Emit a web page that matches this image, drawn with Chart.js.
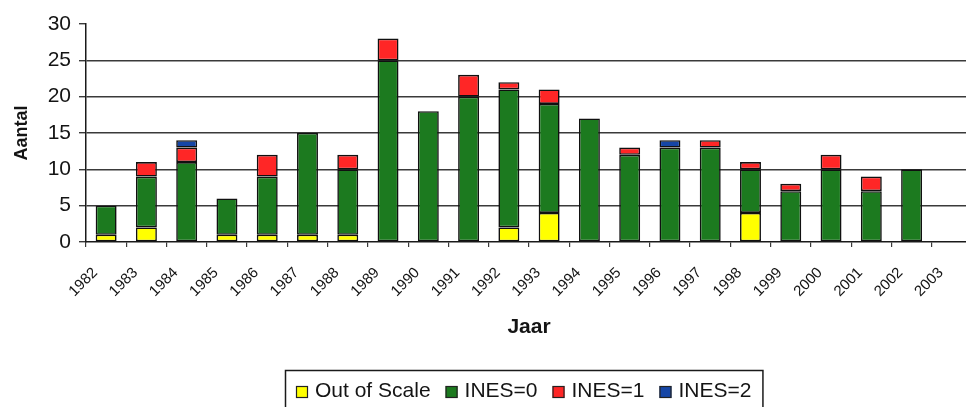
<!DOCTYPE html>
<html>
<head>
<meta charset="utf-8">
<script src="https://cdn.jsdelivr.net/npm/chart.js@4/dist/chart.umd.min.js"></script>
<style>
  html, body { margin: 0; padding: 0; background: #ffffff; overflow: hidden; }
  #wrap { width: 966px; height: 407px; overflow: hidden; }
</style>
</head>
<body>
<div id="wrap"><canvas id="c" width="972" height="407"></canvas></div>
<script>
// Jaarlijkse meldingen per INES-niveau
const years = ['1982', '1983', '1984', '1985', '1986', '1987', '1988', '1989', '1990', '1991', '1992',
               '1993', '1994', '1995', '1996', '1997', '1998', '1999', '2000', '2001', '2002', '2003'];
const outOfScale = [1, 2, null, 1, 1, 1, 1, null, null, null, 2, 4, null, null, null, null, 4, null, null, null, null, null];
const ines0      = [4, 7, 11, 5, 8, 14, 9, 25, 18, 20, 19, 15, 17, 12, 13, 13, 6, 7, 10, 7, 10, null];
const ines1      = [null, 2, 2, null, 3, null, 2, 3, null, 3, 1, 2, null, 1, null, 1, 1, 1, 2, 2, null, null];
const ines2      = [null, null, 1, null, null, null, null, null, null, null, null, null, null, null, 1, null, null, null, null, null, null, null];
const yTicks     = [0, 5, 10, 15, 20, 25, 30];

const FONT = "'Liberation Sans', Arial, Helvetica, sans-serif";
const INK = '#141414';
const RULE = '#3a3a3a';

function barSet(label, data, color) {
  return {
    label, data,
    backgroundColor: color,
    borderColor: '#101010',
    borderWidth: 1.6,
    borderSkipped: false,
    categoryPercentage: 1.0,
    barPercentage: 0.52
  };
}

// Legend drawn as a framed row below the axis title
const framedLegend = {
  id: 'framedLegend',
  afterDraw(chart) {
    const ctx = chart.ctx;
    const sw = 12, gapText = 7, gapItem = 15, padX = 11;
    ctx.save();
    ctx.font = '21px ' + FONT;
    const items = chart.data.datasets.map(ds => ({
      text: ds.label, color: ds.backgroundColor, w: ctx.measureText(ds.label).width
    }));
    let total = padX * 2;
    items.forEach((it, i) => { total += sw + gapText + it.w + (i < items.length - 1 ? gapItem : 0); });
    const cx = 524, top = 370, bottom = 414, midY = 391;
    const left = Math.round(cx - total / 2);
    ctx.lineWidth = 1.5;
    ctx.strokeStyle = '#1a1a1a';
    ctx.strokeRect(left + 0.5, top + 0.5, total, bottom - top);
    let x = left + padX;
    ctx.textBaseline = 'middle';
    ctx.textAlign = 'left';
    items.forEach(it => {
      ctx.fillStyle = it.color;
      ctx.fillRect(x, midY - sw / 2 + 1, sw, sw);
      ctx.lineWidth = 1.2;
      ctx.strokeStyle = '#222';
      ctx.strokeRect(x + 0.5, midY - sw / 2 + 1.5, sw - 1, sw - 1);
      x += sw + gapText;
      ctx.fillStyle = INK;
      ctx.fillText(it.text, x, midY);
      x += it.w + gapItem;
    });
    ctx.restore();
  }
};

new Chart(document.getElementById('c'), {
  type: 'bar',
  data: {
    labels: years,
    datasets: [
      barSet('Out of Scale', outOfScale, '#ffff00'),
      barSet('INES=0', ines0, '#1c7a1f'),
      barSet('INES=1', ines1, '#ff2626'),
      barSet('INES=2', ines2, '#1646a6')
    ]
  },
  options: {
    responsive: false,
    animation: false,
    devicePixelRatio: 1,
    layout: { padding: { left: 0, right: 0, top: 24, bottom: 65 } },
    plugins: {
      legend: { display: false },
      tooltip: { enabled: false }
    },
    scales: {
      x: {
        stacked: true,
        grid: { offset: true, drawOnChartArea: false, drawTicks: true, tickLength: 5, color: RULE, lineWidth: 1.2 },
        border: { color: '#1a1a1a', width: 1.5 },
        ticks: {
          minRotation: 45, maxRotation: 45, autoSkip: false,
          labelOffset: -11, padding: 17,
          color: INK, font: { family: FONT, size: 15 }
        },
        title: {
          display: true, text: 'Jaar', color: INK,
          font: { family: FONT, size: 21, weight: 'bold' },
          padding: { top: 0, bottom: 2 }
        },
        afterFit(scale) {
          scale.height = 100;
          scale.paddingLeft = 0;
          scale.paddingRight = 0;
        }
      },
      y: {
        stacked: true,
        min: 0, max: 30,
        afterBuildTicks(scale) { scale.ticks = yTicks.map(v => ({ value: v })); },
        grid: {
          color: ctx => (ctx.tick && (ctx.tick.value === 30 || ctx.tick.value === 0)) ? 'rgba(0,0,0,0)' : RULE,
          tickColor: RULE, tickLength: 7, lineWidth: 1.4
        },
        border: { color: '#1a1a1a', width: 1.5 },
        ticks: { padding: 8, color: INK, font: { family: FONT, size: 21 } },
        title: {
          display: true, text: 'Aantal', color: INK,
          font: { family: FONT, size: 18, weight: 'bold' },
          padding: { top: 11, bottom: 0 }
        },
        afterFit(scale) { scale.width = 86; }
      }
    }
  },
  plugins: [framedLegend]
});
</script>
</body>
</html>
